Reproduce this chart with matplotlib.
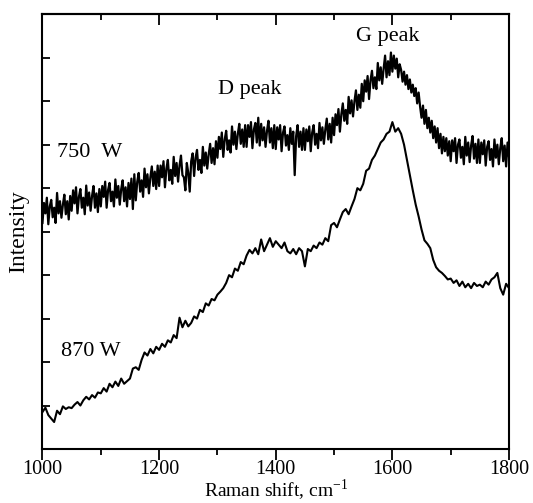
import numpy as np
import matplotlib
matplotlib.use('Agg')
import matplotlib.pyplot as plt
from matplotlib.ticker import MultipleLocator

plt.rcParams['font.family'] = ['Liberation Serif', 'DejaVu Serif']

# Raman shift grids (cm^-1)
shift_750 = np.arange(1000, 1801, 2.5)
shift_870 = np.arange(1000, 1801, 5)

# 750 W spectrum (arbitrary units, offset), 2.5 cm^-1 steps
intensity_750 = [
    5.20, 5.66, 5.42, 5.78, 5.17, 5.58, 5.73, 5.33, 5.55, 5.20, 5.89, 5.42, 5.70, 5.32, 5.62, 5.85, 5.40, 5.70, 5.28, 5.82,
    5.48, 5.95, 5.65, 6.02, 5.42, 5.80, 5.98, 5.55, 5.78, 5.40, 6.06, 5.60, 5.90, 5.48, 5.82, 6.05, 5.55, 5.88, 5.45, 5.98,
    5.58, 6.05, 5.80, 6.15, 5.55, 5.96, 6.12, 5.70, 5.92, 5.58, 6.20, 5.78, 6.05, 5.62, 5.98, 6.18, 5.70, 6.02, 5.58, 6.12,
    5.75, 6.22, 5.52, 6.32, 5.72, 6.15, 6.35, 5.92, 6.18, 5.80, 6.45, 6.02, 6.32, 5.88, 6.25, 6.50, 6.05, 6.38, 5.98, 6.52,
    6.05, 6.52, 6.25, 6.62, 6.02, 6.45, 6.65, 6.18, 6.42, 6.10, 6.72, 6.28, 6.58, 6.15, 6.52, 6.75, 6.30, 6.25, 5.95, 6.58,
    6.35, 5.92, 6.62, 6.80, 6.28, 6.70, 6.88, 6.42, 6.65, 6.35, 6.95, 6.52, 6.82, 6.45, 6.78, 7.02, 6.58, 6.92, 6.55, 7.08,
    6.70, 7.18, 6.90, 7.28, 6.72, 7.12, 7.32, 6.88, 7.10, 6.82, 7.42, 7.00, 7.30, 6.90, 7.25, 7.48, 7.02, 7.35, 6.95, 7.45,
    6.95, 7.45, 7.18, 7.52, 6.92, 7.35, 7.50, 7.05, 7.62, 6.98, 7.48, 7.10, 7.40, 6.95, 7.32, 7.55, 7.05, 7.38, 6.92, 7.45,
    6.90, 7.40, 7.12, 7.45, 6.85, 7.28, 7.42, 6.98, 7.22, 6.88, 7.38, 7.02, 7.30, 6.30, 7.20, 7.45, 6.95, 7.30, 6.88, 7.38,
    6.88, 7.35, 7.08, 7.42, 6.85, 7.28, 7.45, 7.00, 7.25, 6.92, 7.50, 7.10, 7.40, 7.02, 7.35, 7.60, 7.12, 7.48, 7.05, 7.62,
    7.22, 7.70, 7.45, 7.82, 7.30, 7.70, 7.95, 7.55, 7.80, 7.48, 8.10, 7.72, 8.02, 7.65, 8.00, 8.25, 7.80, 8.15, 7.85, 8.40,
    8.00, 8.48, 8.22, 8.58, 8.05, 8.48, 8.70, 8.30, 8.55, 8.28, 8.88, 8.48, 8.78, 8.40, 8.75, 9.05, 8.55, 8.92, 8.60, 9.12,
    8.68, 9.05, 8.75, 8.98, 8.55, 8.85, 8.72, 8.45, 8.68, 8.38, 8.60, 8.28, 8.50, 8.20, 8.38, 8.12, 8.30, 7.95, 8.20, 7.88,
    7.62, 7.90, 7.48, 7.80, 7.38, 7.62, 7.28, 7.55, 7.15, 7.42, 7.05, 7.38, 6.92, 7.25, 6.80, 7.18, 6.85, 7.15, 6.75, 7.08,
    6.62, 7.10, 6.85, 7.15, 6.58, 7.00, 7.12, 6.70, 6.95, 6.55, 7.18, 6.75, 7.05, 6.60, 6.98, 7.20, 6.68, 7.02, 6.58, 7.12,
    6.58, 7.05, 6.78, 7.10, 6.52, 6.95, 7.08, 6.65, 6.90, 6.50, 7.12, 6.70, 7.00, 6.55, 6.92, 7.15, 6.62, 6.98, 6.50, 7.05,
    6.72,
]

# 870 W spectrum (arbitrary units), 5 cm^-1 steps
intensity_870 = [
    0.85, 0.95, 0.78, 0.70, 0.62, 0.88, 0.80, 0.98, 0.92, 0.96,
    0.94, 1.02, 1.08, 1.00, 1.12, 1.20, 1.14, 1.24, 1.18, 1.30,
    1.28, 1.40, 1.32, 1.50, 1.42, 1.55, 1.45, 1.62, 1.50, 1.56,
    1.62, 1.85, 1.88, 1.82, 2.05, 2.22, 2.15, 2.30, 2.20, 2.35,
    2.28, 2.42, 2.35, 2.50, 2.45, 2.62, 2.55, 3.02, 2.80, 2.95,
    2.82, 2.90, 3.05, 3.00, 3.20, 3.15, 3.35, 3.30, 3.45, 3.42,
    3.55, 3.62, 3.70, 3.82, 4.00, 3.95, 4.15, 4.10, 4.30, 4.25,
    4.45, 4.58, 4.50, 4.62, 4.48, 4.82, 4.55, 4.70, 4.85, 4.65,
    4.78, 4.70, 4.62, 4.75, 4.55, 4.50, 4.60, 4.48, 4.62, 4.55,
    4.20, 4.60, 4.55, 4.68, 4.62, 4.75, 4.70, 4.85, 4.78, 5.15,
    5.20, 5.10, 5.28, 5.45, 5.52, 5.40, 5.58, 5.75, 6.00, 5.95,
    6.10, 6.40, 6.45, 6.65, 6.75, 6.90, 7.05, 7.12, 7.25, 7.30,
    7.52, 7.30, 7.38, 7.25, 7.00, 6.65, 6.30, 5.95, 5.62, 5.35,
    5.05, 4.80, 4.72, 4.62, 4.35, 4.18, 4.10, 4.05, 3.98, 3.90,
    3.92, 3.82, 3.88, 3.75, 3.85, 3.72, 3.80, 3.70, 3.82, 3.75,
    3.78, 3.72, 3.85, 3.78, 3.90, 3.95, 4.05, 3.70, 3.55, 3.80,
    3.70,
]

fig = plt.figure(figsize=(5.33, 5.03), dpi=100)
ax = fig.add_axes([0.0797, 0.1074, 0.8753, 0.8642])

ax.plot(shift_750, intensity_750, color='black', linewidth=1.6)
ax.plot(shift_870, intensity_870, color='black', linewidth=1.5)

# --- labels on the curves ---
ax.text(1025, 6.83, '750  W', fontsize=16, ha='left', va='center')
ax.text(1032, 2.25, '870 W', fontsize=16, ha='left', va='center')
ax.text(1356, 8.27, 'D peak', fontsize=16, ha='center', va='center')
ax.text(1592, 9.48, 'G peak', fontsize=16, ha='center', va='center')

# --- axes ---
ax.set_xlim(1000, 1800)
ax.set_ylim(0, 10)
ax.set_xticks([1000, 1200, 1400, 1600, 1800])
ax.xaxis.set_minor_locator(MultipleLocator(100))
ax.set_yticks(range(1, 10))
ax.set_yticklabels([])

ax.tick_params(axis='x', which='major', direction='out', length=8, width=1.3,
               labelsize=14.5, top=False, pad=0)
ax.tick_params(axis='x', which='minor', direction='out', length=4, width=1.3, top=False)
ax.tick_params(axis='y', which='major', direction='in', length=6, width=1.3, right=False)

# top ticks point inward
top = ax.secondary_xaxis('top')
top.set_xticks([1000, 1200, 1400, 1600, 1800])
top.xaxis.set_minor_locator(MultipleLocator(100))
top.tick_params(which='major', direction='in', length=8, width=1.3, labeltop=False)
top.tick_params(which='minor', direction='in', length=4, width=1.3)
top.spines['top'].set_linewidth(1.5)

for sp in ax.spines.values():
    sp.set_linewidth(1.5)

ax.set_xlabel(r'Raman shift, cm$^{\mathregular{-1}}$', fontsize=14)
ax.xaxis.set_label_coords(0.5, -0.066)
ax.set_ylabel('Intensity', fontsize=17, labelpad=6)

fig.savefig('out.png', dpi=100)
